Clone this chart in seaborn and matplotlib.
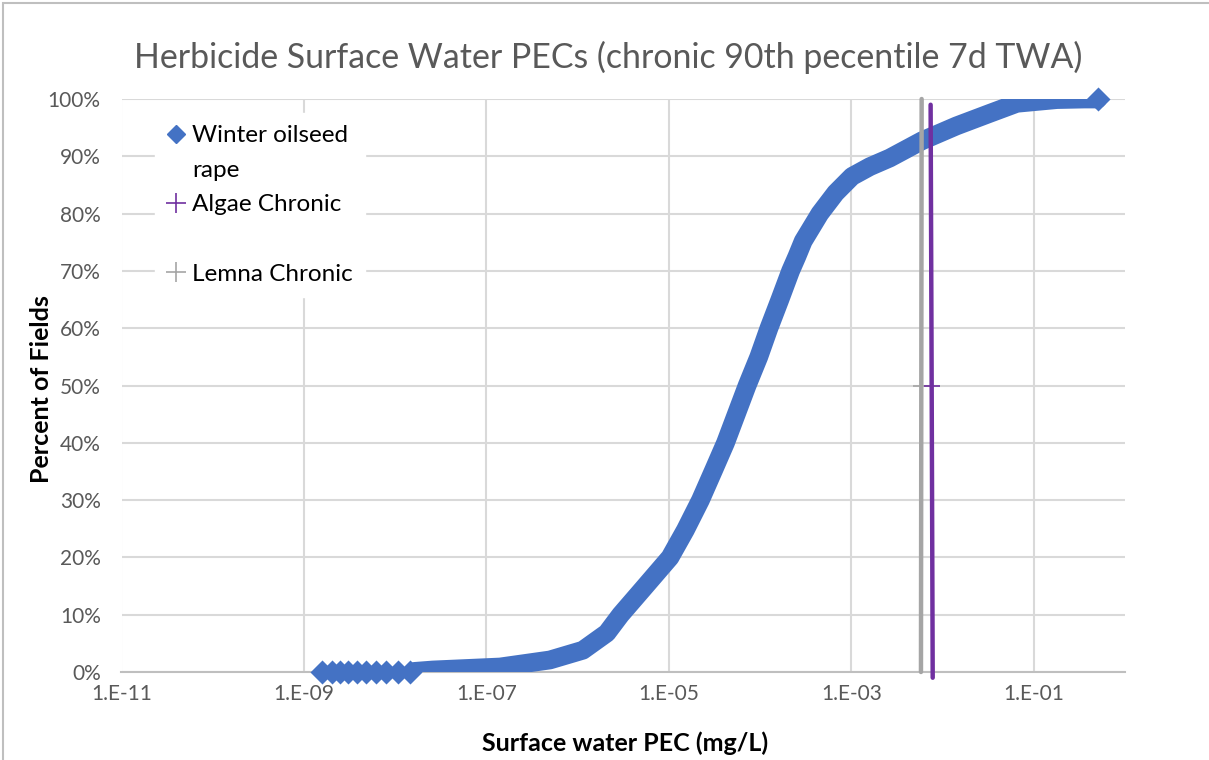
import matplotlib
matplotlib.use("Agg")
import matplotlib.pyplot as plt
import seaborn as sns
import pandas as pd
from matplotlib.lines import Line2D
from matplotlib.patches import Rectangle

# ---- data ----
tail_x = [1.57e-9, 2.03e-9, 2.48e-9, 3.04e-9, 3.81e-9, 4.78e-9, 6.15e-9, 7.93e-9, 1.07e-8, 1.45e-8]
tail_y = [0.0, 0.0, 0.0, 0.0, 0.0, 0.0, 0.0, 0.0, 0.0, 0.0]

curve_x = [1.62e-8, 2.59e-8, 1.41e-7, 4.97e-7, 1.14e-6, 2.09e-6, 2.96e-6, 5.46e-6, 1.03e-5,
           1.52e-5, 2.22e-5, 3.11e-5, 4.18e-5, 5.52e-5, 7.21e-5, 9.68e-5, 1.25e-4,
           1.64e-4, 2.16e-4, 2.53e-4, 2.97e-4, 4.52e-4, 6.72e-4, 1.02e-3, 1.60e-3,
           2.64e-3, 5.93e-3, 1.42e-2, 3.30e-2, 6.52e-2, 0.179, 0.36, 0.502]
curve_y = [0.001, 0.0035, 0.0087, 0.021, 0.038, 0.068, 0.100, 0.149, 0.200,
           0.248, 0.300, 0.353, 0.400, 0.451, 0.500, 0.550, 0.600,
           0.649, 0.700, 0.725, 0.752, 0.800, 0.836, 0.865, 0.882,
           0.897, 0.927, 0.953, 0.975, 0.9925, 0.999, 1.0, 1.0]

algae_x = [7.4e-3, 7.6e-3, 7.8e-3]
algae_y = [0.99, 0.50, -0.01]
lemna_x = [5.9e-3, 5.85e-3, 5.8e-3]
lemna_y = [1.0, 0.50, 0.0]

yticks = [0, 0.1, 0.2, 0.3, 0.4, 0.5, 0.6, 0.7, 0.8, 0.9, 1.0]
xticks = [1e-11, 1e-9, 1e-7, 1e-5, 1e-3, 1e-1]
xtick_labels = ["1.E-11", "1.E-09", "1.E-07", "1.E-05", "1.E-03", "1.E-01"]

BLUE = "#4472C4"
PURPLE = "#7030A0"
GRAY = "#A5A5A5"
TXT = "#595959"

sns.set_theme(style="white")
plt.rcParams["font.family"] = ["Lato", "DejaVu Sans"]

fig = plt.figure(figsize=(12.09, 7.60), dpi=100)
ax = fig.add_axes([121.5 / 1209, 88 / 760, (1125 - 121.5) / 1209, 573 / 760])
ax.set_xscale("log")
ax.set_xlim(1e-11, 1e0)
ax.set_ylim(0, 1.0)

ax.set_xticks(xticks)
ax.set_xticklabels(xtick_labels)
ax.set_yticks(yticks)
ax.set_yticklabels([f"{int(round(v*100))}%" for v in yticks])
ax.minorticks_off()
ax.grid(True, which="major", color="#D9D9D9", linewidth=1.5)
ax.set_axisbelow(True)
for s in ["top", "right", "left"]:
    ax.spines[s].set_visible(False)
ax.spines["bottom"].set_color("#BFBFBF")
ax.spines["bottom"].set_linewidth(1.5)
ax.tick_params(axis="both", length=0, labelsize=15, labelcolor=TXT)
ax.tick_params(axis="y", pad=15)
ax.tick_params(axis="x", pad=9)

# cumulative curve
df_curve = pd.DataFrame({"x": curve_x, "y": curve_y})
sns.lineplot(data=df_curve, x="x", y="y", sort=False, ax=ax, color=BLUE,
             linewidth=13.5, solid_capstyle="round", solid_joinstyle="round", zorder=3)
df_tail = pd.DataFrame({"x": tail_x, "y": tail_y})
sns.scatterplot(data=df_tail, x="x", y="y", ax=ax, marker="D", s=150, color=BLUE,
                edgecolor=BLUE, linewidth=0, zorder=3, clip_on=False)
sns.scatterplot(x=[curve_x[-1]], y=[curve_y[-1]], ax=ax, marker="D", s=150, color=BLUE,
                edgecolor=BLUE, linewidth=0, zorder=3, clip_on=False)

# threshold lines
ax.plot(lemna_x, lemna_y, color=GRAY, linewidth=3.2, marker="+", markevery=[1],
        markersize=11, markeredgewidth=1.2, zorder=4, clip_on=False)
ax.plot(algae_x, algae_y, color=PURPLE, linewidth=3.2, marker="+", markevery=[1],
        markersize=11, markeredgewidth=1.2, zorder=5, clip_on=False)

ax.set_xlabel("Surface water PEC (mg/L)", fontsize=18, fontweight="bold", color="black")
ax.set_ylabel("Percent of Fields", fontsize=18, fontweight="bold", color="black")
ax.xaxis.label.set_va("center")
ax.yaxis.label.set_va("center")
ax.xaxis.set_label_coords((625 - 121.5) / 1003.5, (672 - 743) / 573)
ax.yaxis.set_label_coords((42 - 121.5) / 1003.5, (672 - 389) / 573)

fig.text(608 / 1209, 1 - 57 / 760, "Herbicide Surface Water PECs (chronic 90th pecentile 7d TWA)",
         ha="center", va="center", fontsize=24.4, color=TXT, fontweight="normal")

# legend
handles = [
    Line2D([], [], linestyle="none", marker="D", markersize=9.5, color=BLUE),
    Line2D([], [], linestyle="none"),
    Line2D([], [], linestyle="none", marker="+", markersize=14, markeredgewidth=1.2, color=PURPLE),
    Line2D([], [], linestyle="none"),
    Line2D([], [], linestyle="none", marker="+", markersize=14, markeredgewidth=1.2, color=GRAY),
]
labels = ["Winter oilseed", "rape", "Algae Chronic", " ", "Lemna Chronic"]
leg = ax.legend(handles, labels, loc="upper left", bbox_to_anchor=(0.0329, 0.9756),
                borderaxespad=0, frameon=True, fancybox=False, fontsize=17.5,
                handlelength=0.8, handletextpad=0.25, labelspacing=0.56, borderpad=0.5)
leg.get_frame().set_facecolor("white")
leg.get_frame().set_edgecolor("white")
leg.get_frame().set_alpha(1)
for t in leg.get_texts():
    t.set_color("black")

# chart area border (top/left visible)
fig.patches.append(Rectangle((3 / 1209, -0.1), 1.2, 1 - 3 / 760 + 0.1, transform=fig.transFigure,
                             fill=False, edgecolor="#BFBFBF", linewidth=1.5))

fig.savefig("out.png", dpi=100)
